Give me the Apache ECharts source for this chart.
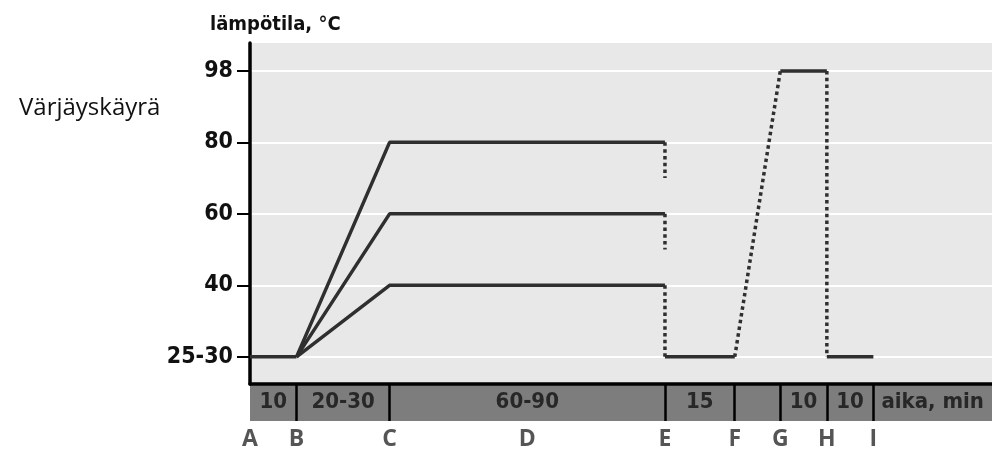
<!DOCTYPE html>
<html>
<head>
<meta charset="utf-8">
<script src="https://cdn.jsdelivr.net/npm/echarts@6/dist/echarts.min.js"></script>
<style>
  html, body { margin: 0; padding: 0; background: #fff; }
  #chart { width: 992px; height: 452px; }
</style>
</head>
<body>
<div id="chart"></div>
<script>
// y axis: temperature levels, drawn evenly spaced
const levelTemps = [27.5, 40, 60, 80, 98]
const tickLabels = ['25-30', '40', '60', '80', '98']

// x axis: stage points A..I (chart units)
const stageNames = ['A', 'B', 'C', 'D', 'E', 'F', 'G', 'H', 'I']
const stageX = [0, 10, 30, 59.6, 89.2, 104.2, 114, 124, 134]
const xMax = 159.5

// time bar under the chart
const segmentEdges = [0, 10, 30, 89.2, 104.2, 114, 124, 134, xMax]
const segmentLabels = ['10', '20-30', '60-90', '15', '', '10', '10', 'aika, min']

// dyeing temperatures and where their dotted drops stop
const dyeTemps = [80, 60, 40]
const dropEnds = [70, 50, 27.5]
const boilTemp = 98
const startTemp = 27.5

const condensed = '"Liberation Sans Narrow", "DejaVu Sans Condensed", sans-serif'
const lineColor = '#2f2f2f'

// temperature -> even level position on the y axis
function lvl (t) {
  for (let i = 0; i < levelTemps.length - 1; i++) {
    if (t <= levelTemps[i + 1]) {
      return i + (t - levelTemps[i]) / (levelTemps[i + 1] - levelTemps[i])
    }
  }
  return levelTemps.length - 1
}

function x (name) {
  return stageX[stageNames.indexOf(name)]
}

function solid (data) {
  return {
    type: 'line', xAxisIndex: 0, yAxisIndex: 0, symbol: 'none', animation: false,
    lineStyle: { color: lineColor, width: 3.5 },
    data: data.map(p => [p[0], lvl(p[1])])
  }
}

function dotted (data) {
  return {
    type: 'line', xAxisIndex: 0, yAxisIndex: 0, symbol: 'none', animation: false,
    lineStyle: { color: lineColor, width: 3.5, type: [3.5, 3.3] },
    data: data.map(p => [p[0], lvl(p[1])])
  }
}

let series = []
series.push(solid([[x('A'), startTemp], [x('B'), startTemp]]))
dyeTemps.forEach((t, i) => {
  series.push(solid([[x('B'), startTemp], [x('C'), t], [x('E'), t]]))
  series.push(dotted([[x('E'), t], [x('E'), dropEnds[i]]]))
})
series.push(solid([[x('E'), startTemp], [x('F'), startTemp]]))
series.push(dotted([[x('F'), startTemp], [x('G'), boilTemp]]))
series.push(solid([[x('G'), boilTemp], [x('H'), boilTemp]]))
series.push(dotted([[x('H'), boilTemp], [x('H'), startTemp]]))
series.push(solid([[x('H'), startTemp], [x('I'), startTemp]]))

// labels inside the time bar
let segData = segmentLabels.map((s, i) => ({
  value: [(segmentEdges[i] + segmentEdges[i + 1]) / 2, 0.5],
  label: { formatter: s }
}))
series.push({
  type: 'scatter', xAxisIndex: 1, yAxisIndex: 1, symbolSize: 0, animation: false,
  silent: true,
  label: {
    show: true, position: 'inside', color: '#111',
    fontFamily: condensed, fontWeight: 'bold', fontSize: 22
  },
  data: segData
})

let option = {
  backgroundColor: '#fff',
  title: [
    {
      text: 'lämpötila, °C', left: 205, top: 10,
      textStyle: { fontFamily: condensed, fontWeight: 'bold', fontSize: 20, color: '#111' }
    },
    {
      text: 'Värjäyskäyrä', left: 14, top: 91,
      textStyle: { fontFamily: '"Open Sans", sans-serif', fontWeight: 'normal', fontSize: 24, color: '#111' }
    }
  ],
  grid: [
    { left: 250, right: 0, top: 43, bottom: 68, show: true, backgroundColor: '#e8e8e8', borderWidth: 0 },
    { left: 250, right: 0, top: 384, height: 37, show: true, backgroundColor: '#7d7d7d', borderWidth: 0 }
  ],
  xAxis: [
    {
      gridIndex: 0, type: 'value', min: 0, max: xMax,
      axisLine: { show: true, onZero: false, lineStyle: { color: '#000', width: 3.5 } },
      axisTick: { show: false }, axisLabel: { show: false }, splitLine: { show: false }
    },
    {
      gridIndex: 1, type: 'value', min: 0, max: xMax, position: 'bottom',
      axisLine: { show: false },
      axisTick: {
        show: true, inside: true, length: 37,
        customValues: segmentEdges.slice(1, -1),
        lineStyle: { color: '#000', width: 2.5 }
      },
      axisLabel: {
        show: true, customValues: stageX, margin: 7,
        formatter: v => stageNames[stageX.indexOf(v)],
        fontFamily: '"Open Sans", sans-serif', fontWeight: 'bold', fontSize: 23, color: '#555'
      },
      splitLine: { show: false }
    }
  ],
  yAxis: [
    {
      gridIndex: 0, type: 'value', min: -0.38, max: 4.39,
      axisLine: { show: true, onZero: false, lineStyle: { color: '#000', width: 3.5 } },
      axisTick: {
        show: true, length: 13, customValues: [0, 1, 2, 3, 4],
        lineStyle: { color: '#000', width: 2 }
      },
      axisLabel: {
        show: true, customValues: [0, 1, 2, 3, 4], margin: 17,
        formatter: v => tickLabels[Math.round(v)],
        fontFamily: condensed, fontWeight: 'bold', fontSize: 23, color: '#111'
      },
      splitLine: { show: true, lineStyle: { color: '#fff', width: 2 } }
    },
    { gridIndex: 1, type: 'value', min: 0, max: 1, show: false }
  ],
  series: series
}

let chart = echarts.init(document.getElementById('chart'))
chart.setOption(option)
</script>
</body>
</html>
